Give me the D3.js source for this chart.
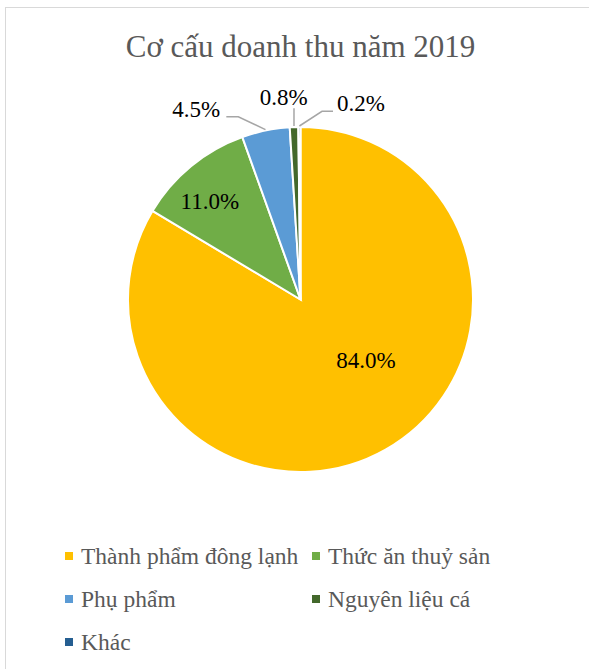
<!DOCTYPE html>
<html>
<head>
<meta charset="utf-8">
<script src="https://cdn.jsdelivr.net/npm/d3@7"></script>
<style>
  body { margin: 0; background: #fff; }
</style>
</head>
<body>
<div id="chart"></div>
<script>
var title = "Cơ cấu doanh thu năm 2019";
var categories = ["Thành phẩm đông lạnh", "Thức ăn thuỷ sản", "Phụ phẩm", "Nguyên liệu cá", "Khác"];
var values = [84.0, 11.0, 4.5, 0.8, 0.2];
var labels = ["84.0%", "11.0%", "4.5%", "0.8%", "0.2%"];
var colors = ["#FFC000", "#70AD47", "#5B9BD5", "#43682B", "#255E91"];

var FONT = "'Liberation Serif', 'Times New Roman', serif";

// label placement (radius factor + angle offset in degrees from slice middle)
var labelPos = [
  {r: 0.516, da: -17.7, inside: true},
  {r: 0.776, da: -3.2, inside: true},
  {r: 1.26, da: -17, inside: false},
  {r: 1.177, da: -2.6, inside: false},
  {r: 1.19, da: 17.5, inside: false}
];

var width = 589, height = 669;
var cx = 300.5, cy = 299.5, radius = 172.5;

var svg = d3.select("#chart").append("svg")
    .attr("width", width)
    .attr("height", height)
    .attr("font-family", FONT);

svg.append("rect")
    .attr("x", 5.5).attr("y", 7.5)
    .attr("width", 700).attr("height", 700)
    .attr("fill", "#fff")
    .attr("stroke", "#d9d9d9");

svg.append("text")
    .attr("x", cx).attr("y", 57)
    .attr("text-anchor", "middle")
    .attr("font-family", FONT)
    .attr("font-size", 31)
    .attr("fill", "#595959")
    .text(title);

var data = categories.map(function(c, i) { return {name: c, value: values[i], i: i}; });

var pie = d3.pie().sort(null).value(function(d) { return d.value; });
var arc = d3.arc().innerRadius(0).outerRadius(radius);
var arcs = pie(data);

var g = svg.append("g").attr("transform", "translate(" + cx + "," + cy + ")");

g.selectAll("path")
    .data(arcs)
    .enter().append("path")
      .attr("d", arc)
      .attr("fill", function(d) { return colors[d.data.i]; })
      .attr("stroke", "#fff")
      .attr("stroke-width", 2);

function polar(r, a) { return [Math.sin(a) * r, -Math.cos(a) * r]; }

arcs.forEach(function(d) {
  var p = labelPos[d.data.i];
  var mid = (d.startAngle + d.endAngle) / 2;
  var a = mid + p.da * Math.PI / 180;
  var pt = polar(radius * p.r, a);
  if (!p.inside) {
    var edge = polar(radius + 1, mid);
    var line;
    if (p.da < -10) {
      line = [[pt[0] + 30, pt[1] + 8], [pt[0] + 42, pt[1] + 8], edge];
    } else if (p.da > 10) {
      line = [[pt[0] - 28, pt[1] + 8], [pt[0] - 39, pt[1] + 8], edge];
    } else {
      line = [[edge[0], pt[1] + 11], edge];
    }
    g.append("path")
      .attr("d", d3.line()(line))
      .attr("fill", "none")
      .attr("stroke", "#a6a6a6")
      .attr("stroke-width", 1.5);
  }
  g.append("text")
    .attr("x", pt[0]).attr("y", pt[1])
    .attr("dy", "0.35em")
    .attr("text-anchor", "middle")
    .attr("font-family", FONT)
    .attr("font-size", 23)
    .attr("fill", "#000")
    .text(labels[d.data.i]);
});

// legend
var legend = svg.append("g");
var cols = [65, 312], rowY = 556, rowGap = 43;
data.forEach(function(d, i) {
  var x = cols[i % 2], y = rowY + Math.floor(i / 2) * rowGap;
  legend.append("rect")
    .attr("x", x).attr("y", y - 4)
    .attr("width", 8).attr("height", 8)
    .attr("fill", colors[i]);
  legend.append("text")
    .attr("x", x + 16).attr("y", y)
    .attr("dy", "0.35em")
    .attr("font-family", FONT)
    .attr("font-size", 23.5)
    .attr("fill", "#595959")
    .text(d.name);
});
</script>
</body>
</html>
